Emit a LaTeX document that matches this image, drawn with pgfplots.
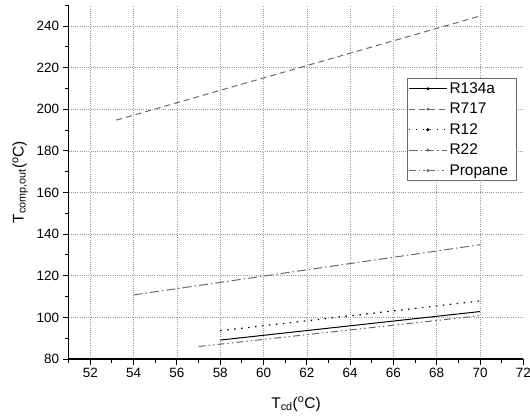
\documentclass[border=0pt]{standalone}
\usepackage{fontspec}
\setmainfont{Liberation Sans}
\usepackage{pgfplots}
\pgfplotsset{compat=1.18}
\definecolor{lgray}{HTML}{6A6A6A}
\begin{document}
\begin{tikzpicture}
\path[use as bounding box] (-68.7bp,-60bp) rectangle (461.3bp,359bp);
\begin{axis}[
 at={(0,0)}, anchor=south west,
 scale only axis, width=454.6bp, height=353.8bp,
 xmin=51, xmax=72, ymin=80, ymax=250,
 axis x line*=bottom, axis y line*=left,
 axis line style={line width=1.1bp, -},
 xtick={52,54,...,70}, extra x ticks={72}, extra x tick style={grid=none},
 minor xtick={51,53,...,71},
 ytick={80,100,...,240}, minor ytick={90,110,...,250},
 tick align=outside, major tick length=6bp, minor tick length=3.5bp,
 every tick/.style={black, line width=1bp},
 xmajorgrids, ymajorgrids,
 major grid style={gray!80, line width=0.6bp, dash pattern=on 0.6bp off 1.6bp},
 /pgf/number format/assume math mode=true,
 tick label style={font=\fontsize{13.5}{13.5}\selectfont},
 label style={font=\fontsize{15.5}{15.5}\selectfont},
 xlabel={T\textsubscript{cd}(\textsuperscript{o}C)},
 ylabel={T\textsubscript{comp,out}(\textsuperscript{o}C)},
 ylabel style={yshift=2bp},
 legend style={at={(0.744,0.794)}, anchor=north west, draw=lgray, line width=0.8bp,
   font=\fontsize{15.5}{18}\selectfont, inner xsep=1bp, inner ysep=2bp, row sep=4bp,
   cells={anchor=west, text height=11bp, text depth=3.5bp, inner ysep=1bp, inner xsep=2bp}},
 legend image code/.code={\draw[#1] (0bp,0bp) -- (38bp,0bp); \fill[#1, solid] (19bp,0bp) circle (0.9bp);},
]
\addplot[black, line width=1bp] coordinates {(58,89.1) (70,102.8)};
\addlegendentry{R134a}
\addplot[lgray, line width=1bp, dash pattern=on 6bp off 4bp] coordinates {(53.2,194.8) (70,244.8)};
\addlegendentry{R717}
\addplot[black, line width=1.2bp, dash pattern=on 1.5bp off 5.5bp] coordinates {(58,93.6) (70,107.9)};
\addlegendentry{R12}
\addplot[lgray, line width=1bp, dash pattern=on 9bp off 3bp on 1.5bp off 3bp] coordinates {(54,110.8) (70,134.9)};
\addlegendentry{R22}
\addplot[lgray, line width=1bp, dash pattern=on 7bp off 3bp on 1.5bp off 3bp on 1.5bp off 3bp] coordinates {(57,86) (70,100.8)};
\addlegendentry{Propane\hspace*{6bp}}
\end{axis}
\end{tikzpicture}
\end{document}
